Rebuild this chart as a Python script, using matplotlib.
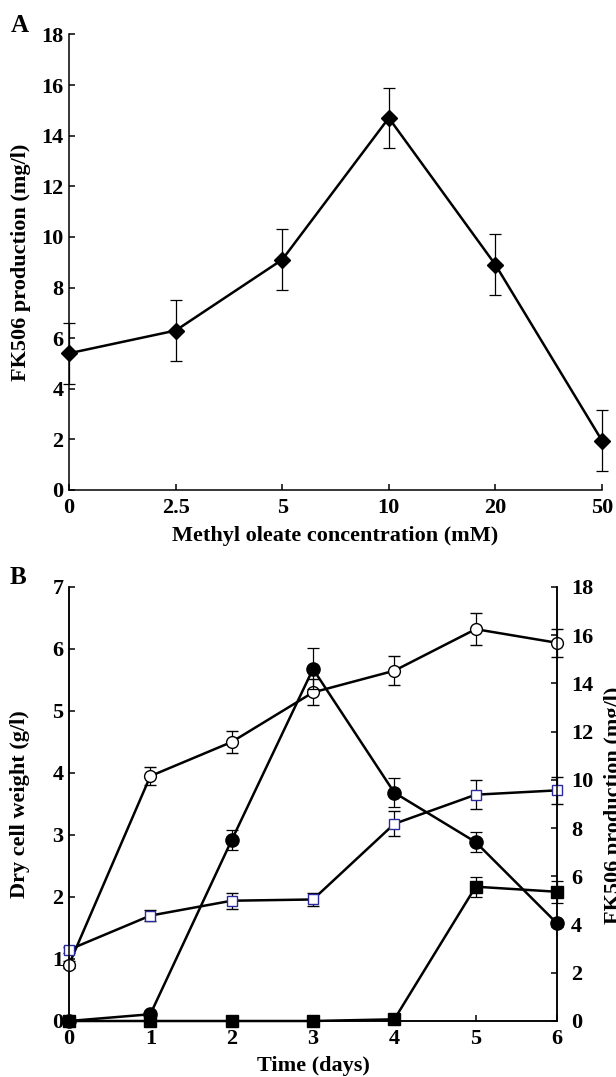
import matplotlib
matplotlib.use('Agg')
import matplotlib.pyplot as plt

plt.rcParams['font.family'] = ['Liberation Serif', 'DejaVu Serif']
plt.rcParams['font.weight'] = 'bold'

# panel A: FK506 vs methyl oleate concentration
conc_labels = ['0', '2.5', '5', '10', '20', '50']
fk506_a = [5.4, 6.3, 9.1, 14.7, 8.9, 1.95]
fk506_a_err = [1.2, 1.2, 1.2, 1.2, 1.2, 1.2]

# panel B: time course
days = [0, 1, 2, 3, 4, 5, 6]
dcw_oleate = [0.91, 3.95, 4.5, 5.3, 5.65, 6.32, 6.1]
dcw_oleate_err = [0.05, 0.15, 0.18, 0.21, 0.23, 0.26, 0.23]
dcw_ctrl = [1.15, 1.7, 1.94, 1.96, 3.18, 3.65, 3.72]
dcw_ctrl_err = [0.05, 0.09, 0.13, 0.1, 0.2, 0.23, 0.22]
fk_oleate = [0.0, 0.28, 7.5, 14.6, 9.47, 7.42, 4.05]
fk_oleate_err = [0.0, 0.0, 0.42, 0.85, 0.6, 0.42, 0.15]
fk_ctrl = [0.0, 0.0, 0.0, 0.0, 0.07, 5.57, 5.36]
fk_ctrl_err = [0.0, 0.0, 0.0, 0.0, 0.0, 0.42, 0.45]

W, H = 616, 1077
FS = 16
fig = plt.figure(figsize=(W / 100, H / 100), dpi=100)

def style_axis(ax):
    for s in ['left', 'bottom', 'right']:
        ax.spines[s].set_linewidth(1.1)
    ax.spines['top'].set_visible(False)
    ax.tick_params(direction='in', length=4, width=1.1, labelsize=FS)
    for lab in ax.get_xticklabels() + ax.get_yticklabels():
        lab.set_fontweight('bold')

ebar = dict(ecolor='black', elinewidth=0.9, capsize=4, capthick=0.9,
            clip_on=False, zorder=3)

# ---- A ----
axA = fig.add_axes([69 / W, 1 - 490 / H, (602 - 69) / W, (490 - 34.4) / H])
xa = list(range(len(conc_labels)))
axA.errorbar(xa, fk506_a, yerr=fk506_a_err, color='black', lw=1.8,
             marker='D', ms=8.5, **ebar)
axA.set_xlim(0, 5)
axA.set_ylim(0, 18)
axA.set_yticks(range(0, 19, 2))
axA.set_xticks(xa)
axA.set_xticklabels(conc_labels)
axA.spines['right'].set_visible(False)
style_axis(axA)
axA.tick_params(axis='x', pad=6)
axA.tick_params(axis='y', pad=4)
axA.set_ylabel('FK506 production (mg/l)', fontsize=FS, fontweight='bold')
axA.yaxis.set_label_coords(-0.072, 0.5)
axA.set_xlabel('Methyl oleate concentration (mM)', fontsize=FS, fontweight='bold')
axA.xaxis.set_label_coords(0.5, -0.078)
fig.text(20 / W, 1 - 25 / H, 'A', fontsize=18, fontweight='bold', ha='center', va='center')

# ---- B ----
axB = fig.add_axes([69 / W, 1 - 1021 / H, (557 - 69) / W, (1021 - 587) / H])
axR = axB.twinx()
blue = '#2a2a9e'

axB.errorbar(days, dcw_oleate, yerr=dcw_oleate_err, color='black', lw=1.8,
             marker='o', ms=8.5, mfc='white', mec='black', mew=1.0, **ebar)
axB.errorbar(days, dcw_ctrl, yerr=dcw_ctrl_err, color='black', lw=1.8,
             marker='s', ms=7.5, mfc='white', mec=blue, mew=1.0, **ebar)
axR.errorbar(days, fk_oleate, yerr=fk_oleate_err, color='black', lw=1.8,
             marker='o', ms=9.5, mfc='black', mec='black', **ebar)
axR.errorbar(days, fk_ctrl, yerr=fk_ctrl_err, color='black', lw=1.8,
             marker='s', ms=8, mfc='black', mec='black', **ebar)

axB.set_xlim(0, 6)
axB.set_ylim(0, 7)
axR.set_ylim(0, 18)
axB.set_xticks(days)
axB.set_yticks(range(0, 8))
axR.set_yticks(range(0, 19, 2))
style_axis(axB)
style_axis(axR)
axB.tick_params(axis='x', pad=6)
axB.tick_params(axis='y', pad=4)
axR.tick_params(axis='y', pad=10)
axB.set_ylabel('Dry cell weight (g/l)', fontsize=FS, fontweight='bold')
axB.yaxis.set_label_coords(-0.08, 0.5)
axB.set_xlabel('Time (days)', fontsize=FS, fontweight='bold')
axB.xaxis.set_label_coords(0.5, -0.08)
fig.text(604 / W, 1 - 805 / H, 'FK506 production (mg/l)', fontsize=FS,
         fontweight='bold', rotation=90, ha='left', va='center')
fig.text(18 / W, 1 - 578 / H, 'B', fontsize=18, fontweight='bold', ha='center', va='center')

fig.savefig('out.png', dpi=100)
